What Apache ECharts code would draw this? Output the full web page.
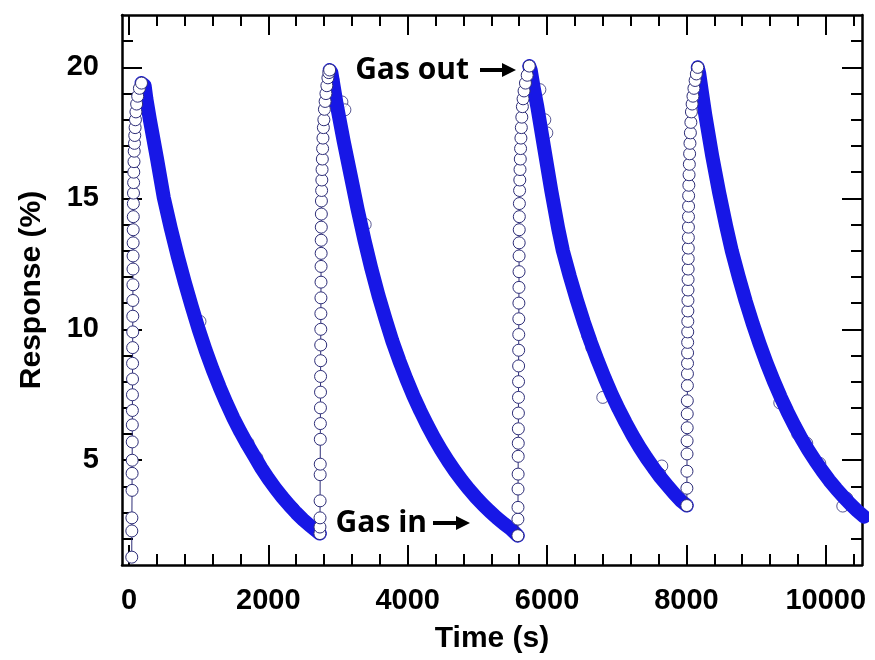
<!DOCTYPE html>
<html>
<head>
<meta charset="utf-8">
<script src="https://cdn.jsdelivr.net/npm/echarts@6/dist/echarts.min.js"></script>
<style>
  html, body { margin: 0; padding: 0; background: #fff; }
  #chart { width: 875px; height: 660px; }
</style>
</head>
<body>
<div id="chart"></div>
<script>
// tick positions
const xMajor = [0, 2000, 4000, 6000, 8000, 10000];
const xMinor = [400, 800, 1200, 1600, 2400, 2800, 3200, 3600, 4400, 4800, 5200, 5600, 6400, 6800, 7200, 7600, 8400, 8800, 9200, 9600, 10400];
const yMajor = [5, 10, 15, 20];
const yMinor = [2, 3, 4, 6, 7, 8, 9, 11, 12, 13, 14, 16, 17, 18, 19, 21];

// cycle 1 : gas in (rise) then gas out (decay)  [time s, response %]
const rise1 = [[40,1.3],[41,2.3],[42,2.8],[44,3.85],[45,4.5],[46,5.0],[47,5.7],[48,6.35],[49,6.9],[50,7.5],[51,8.1],[52,8.7],[53,9.3],[54,9.9],[55,10.5],[56,11.1],[57,11.7],[58,12.3],[59,12.8],[60,13.3],[61,13.8],[62,14.3],[63,14.8],[65,15.2],[67,15.6],[69,16.0],[72,16.4],[75,16.8],[79,17.1],[83,17.4],[88,17.7],[93,18.0],[100,18.3],[110,18.6],[125,18.9],[150,19.2],[180,19.4]];
const decay1 = [[205,19.42],[225,19.3],[250,18.8],[300,18.0],[400,16.55],[500,15.02],[600,13.86],[700,12.79],[800,11.8],[900,10.88],[1000,10.0],[1100,9.2],[1200,8.47],[1300,7.8],[1400,7.18],[1500,6.6],[1600,6.08],[1700,5.6],[1800,5.15],[1900,4.7],[2000,4.3],[2100,3.93],[2200,3.59],[2300,3.28],[2400,2.99],[2500,2.73],[2600,2.5],[2700,2.28],[2740,2.2]];

// cycle 2
const rise2 = [[2740,2.2],[2741,2.45],[2742,2.8],[2743,3.45],[2744,4.45],[2745,4.85],[2746,5.8],[2747,6.4],[2748,7.0],[2749,7.6],[2750,8.2],[2751,8.8],[2752,9.4],[2753,10.0],[2754,10.6],[2755,11.2],[2756,11.8],[2757,12.4],[2758,12.9],[2759,13.4],[2760,13.9],[2761,14.4],[2762,14.9],[2765,15.3],[2768,15.7],[2771,16.1],[2775,16.5],[2779,16.9],[2784,17.3],[2790,17.7],[2797,18.0],[2805,18.4],[2815,18.7],[2827,19.0],[2840,19.3],[2855,19.6],[2868,19.8],[2880,19.9]];
const decay2 = [[2905,19.8],[2930,19.4],[2980,18.6],[3080,17.2],[3180,15.9],[3280,14.6],[3380,13.4],[3480,12.3],[3580,11.3],[3680,10.4],[3780,9.55],[3880,8.8],[3980,8.11],[4080,7.47],[4180,6.89],[4280,6.35],[4380,5.85],[4480,5.39],[4580,4.97],[4680,4.58],[4780,4.22],[4880,3.89],[4980,3.58],[5080,3.3],[5180,3.04],[5280,2.8],[5380,2.58],[5480,2.38],[5581,2.12]];

// cycle 3
const rise3 = [[5581,2.12],[5582,2.75],[5583,3.2],[5584,3.9],[5585,4.47],[5586,5.15],[5587,5.65],[5588,6.2],[5589,6.8],[5590,7.4],[5591,8.0],[5592,8.6],[5593,9.2],[5594,9.8],[5595,10.4],[5596,11.0],[5597,11.6],[5598,12.2],[5599,12.8],[5600,13.3],[5601,13.8],[5602,14.3],[5603,14.8],[5606,15.3],[5609,15.7],[5612,16.1],[5616,16.5],[5620,16.9],[5625,17.3],[5631,17.7],[5638,18.1],[5646,18.5],[5656,18.8],[5670,19.1],[5690,19.4],[5715,19.7],[5745,20.05]];
const decay3 = [[5765,19.9],[5810,19.2],[5860,18.5],[5960,16.9],[6060,15.3],[6160,13.85],[6227,13.0],[6327,12.02],[6427,11.12],[6527,10.28],[6627,9.51],[6727,8.8],[6827,8.14],[6927,7.52],[7027,6.96],[7127,6.44],[7227,5.95],[7327,5.5],[7427,5.09],[7527,4.71],[7627,4.35],[7727,4.03],[7827,3.72],[7927,3.44],[8006,3.27]];

// cycle 4
const rise4 = [[8006,3.27],[8007,3.93],[8008,4.58],[8009,5.24],[8010,5.74],[8011,6.24],[8012,6.77],[8013,7.27],[8014,7.85],[8015,8.3],[8016,8.7],[8017,9.1],[8018,9.5],[8019,9.9],[8020,10.3],[8021,10.7],[8022,11.1],[8023,11.5],[8024,11.9],[8025,12.3],[8026,12.7],[8027,13.1],[8028,13.5],[8029,13.9],[8030,14.3],[8031,14.7],[8032,15.1],[8035,15.5],[8038,15.9],[8042,16.3],[8046,16.7],[8051,17.1],[8057,17.5],[8064,17.9],[8072,18.3],[8082,18.6],[8094,18.9],[8108,19.2],[8125,19.5],[8143,19.75],[8163,20.0]];
const decay4 = [[8185,19.75],[8220,19.1],[8270,18.2],[8370,16.62],[8470,15.22],[8570,13.95],[8651,13.0],[8751,12.0],[8851,11.07],[8951,10.22],[9051,9.44],[9151,8.71],[9251,8.04],[9351,7.42],[9451,6.85],[9551,6.32],[9651,5.83],[9751,5.38],[9851,4.97],[9951,4.59],[10051,4.23],[10151,3.91],[10251,3.61],[10351,3.33],[10451,3.07],[10551,2.84]];

// stray open circles visible on top of the dense bands
const strays = [[1019,10.3],[1708,5.66],[1836,5.09],[2353,3.17],[2927,19.53],[3056,18.68],[3099,18.38],[3390,14.0],[5897,19.15],[5968,18.0],[5997,17.5],[6585,9.75],[6643,9.3],[6830,8.15],[6800,7.4],[7647,4.78],[7618,4.47],[8809,11.48],[9340,7.19],[9598,6.0],[9727,5.65],[9914,4.88],[10301,3.55],[10244,3.25],[10460,3.05]];

const rises = [rise1, rise2, rise3, rise4];
const decays = [decay1, decay2, decay3, decay4];

const edge = '#2e2e78';
const band = '#1717e6';
const axisFont = { fontFamily: 'Liberation Sans', fontWeight: 'bold', fontSize: 29, color: '#000' };

function tickAxis(pos, values, len, showLine) {
  return {
    type: 'value', position: pos,
    axisLine: { show: showLine, onZero: false, lineStyle: { color: '#000', width: 2.5 } },
    axisTick: { show: true, inside: true, length: len, customValues: values, lineStyle: { color: '#000', width: 2 } },
    axisLabel: { show: false },
    splitLine: { show: false }
  };
}

const xs = [
  Object.assign(tickAxis('bottom', xMajor, 20, true), {
    axisLabel: Object.assign({ show: true, customValues: xMajor, margin: 21, formatter: v => String(v) }, axisFont),
    name: 'Time (s)', nameLocation: 'middle', nameGap: 59,
    nameTextStyle: { fontFamily: 'Liberation Sans', fontWeight: 'bold', fontSize: 30, color: '#000' }
  }),
  tickAxis('bottom', xMinor, 11, false),
  tickAxis('top', xMajor, 20, true),
  tickAxis('top', xMinor, 11, false)
];
xs.forEach(a => { a.min = -100; a.max = 10520; });

const ys = [
  Object.assign(tickAxis('left', yMajor, 20, true), {
    axisLabel: Object.assign({ show: true, customValues: yMajor, margin: 23, formatter: v => String(v) }, axisFont),
    name: 'Response (%)', nameLocation: 'middle', nameGap: 75,
    nameTextStyle: { fontFamily: 'Liberation Sans', fontWeight: 'bold', fontSize: 30, color: '#000' }
  }),
  tickAxis('left', yMinor, 11, false),
  tickAxis('right', yMajor, 20, true),
  tickAxis('right', yMinor, 11, false)
];
ys.forEach(a => { a.min = 1; a.max = 22; });

const series = [];
for (let i = 0; i < 4; i++) {
  // gas in: open circles joined by a thin line
  series.push({
    type: 'line', data: rises[i], symbol: 'circle', symbolSize: 12,
    itemStyle: { color: '#fff', borderColor: edge, borderWidth: 1 },
    lineStyle: { color: edge, width: 1 },
    silent: true, animation: false
  });
  // gas out: circles so dense they merge into a solid band
  series.push({
    type: 'line', data: [rises[i][rises[i].length - 1]].concat(decays[i]),
    symbol: 'none',
    lineStyle: { color: band, width: 14, cap: 'round', join: 'round' },
    silent: true, animation: false
  });
}
series.push({
  type: 'scatter', data: strays, symbol: 'circle', symbolSize: 12,
  itemStyle: { color: '#fff', borderColor: edge, borderWidth: 1 },
  silent: true, animation: false
});

const noteFont = 'bold 30px "Open Sans"';

const chart = echarts.init(document.getElementById('chart'));
chart.setOption({
  backgroundColor: '#fff',
  animation: false,
  grid: { left: 122, right: 13, top: 15, bottom: 95 },
  xAxis: xs,
  yAxis: ys,
  series: series,
  graphic: [
    { type: 'text', x: 469, y: 70, style: { text: 'Gas out', font: noteFont, fill: '#000', align: 'right', verticalAlign: 'middle', textAlign: 'right', textVerticalAlign: 'middle' } },
    { type: 'line', shape: { x1: 480, y1: 70, x2: 505, y2: 70 }, style: { stroke: '#000', lineWidth: 4 } },
    { type: 'polygon', shape: { points: [[502, 63], [516, 70], [502, 77]] }, style: { fill: '#000' } },
    { type: 'text', x: 427, y: 523, style: { text: 'Gas in', font: noteFont, fill: '#000', align: 'right', verticalAlign: 'middle', textAlign: 'right', textVerticalAlign: 'middle' } },
    { type: 'line', shape: { x1: 433, y1: 523, x2: 459, y2: 523 }, style: { stroke: '#000', lineWidth: 4 } },
    { type: 'polygon', shape: { points: [[456, 516], [470, 523], [456, 530]] }, style: { fill: '#000' } }
  ]
});
</script>
</body>
</html>
